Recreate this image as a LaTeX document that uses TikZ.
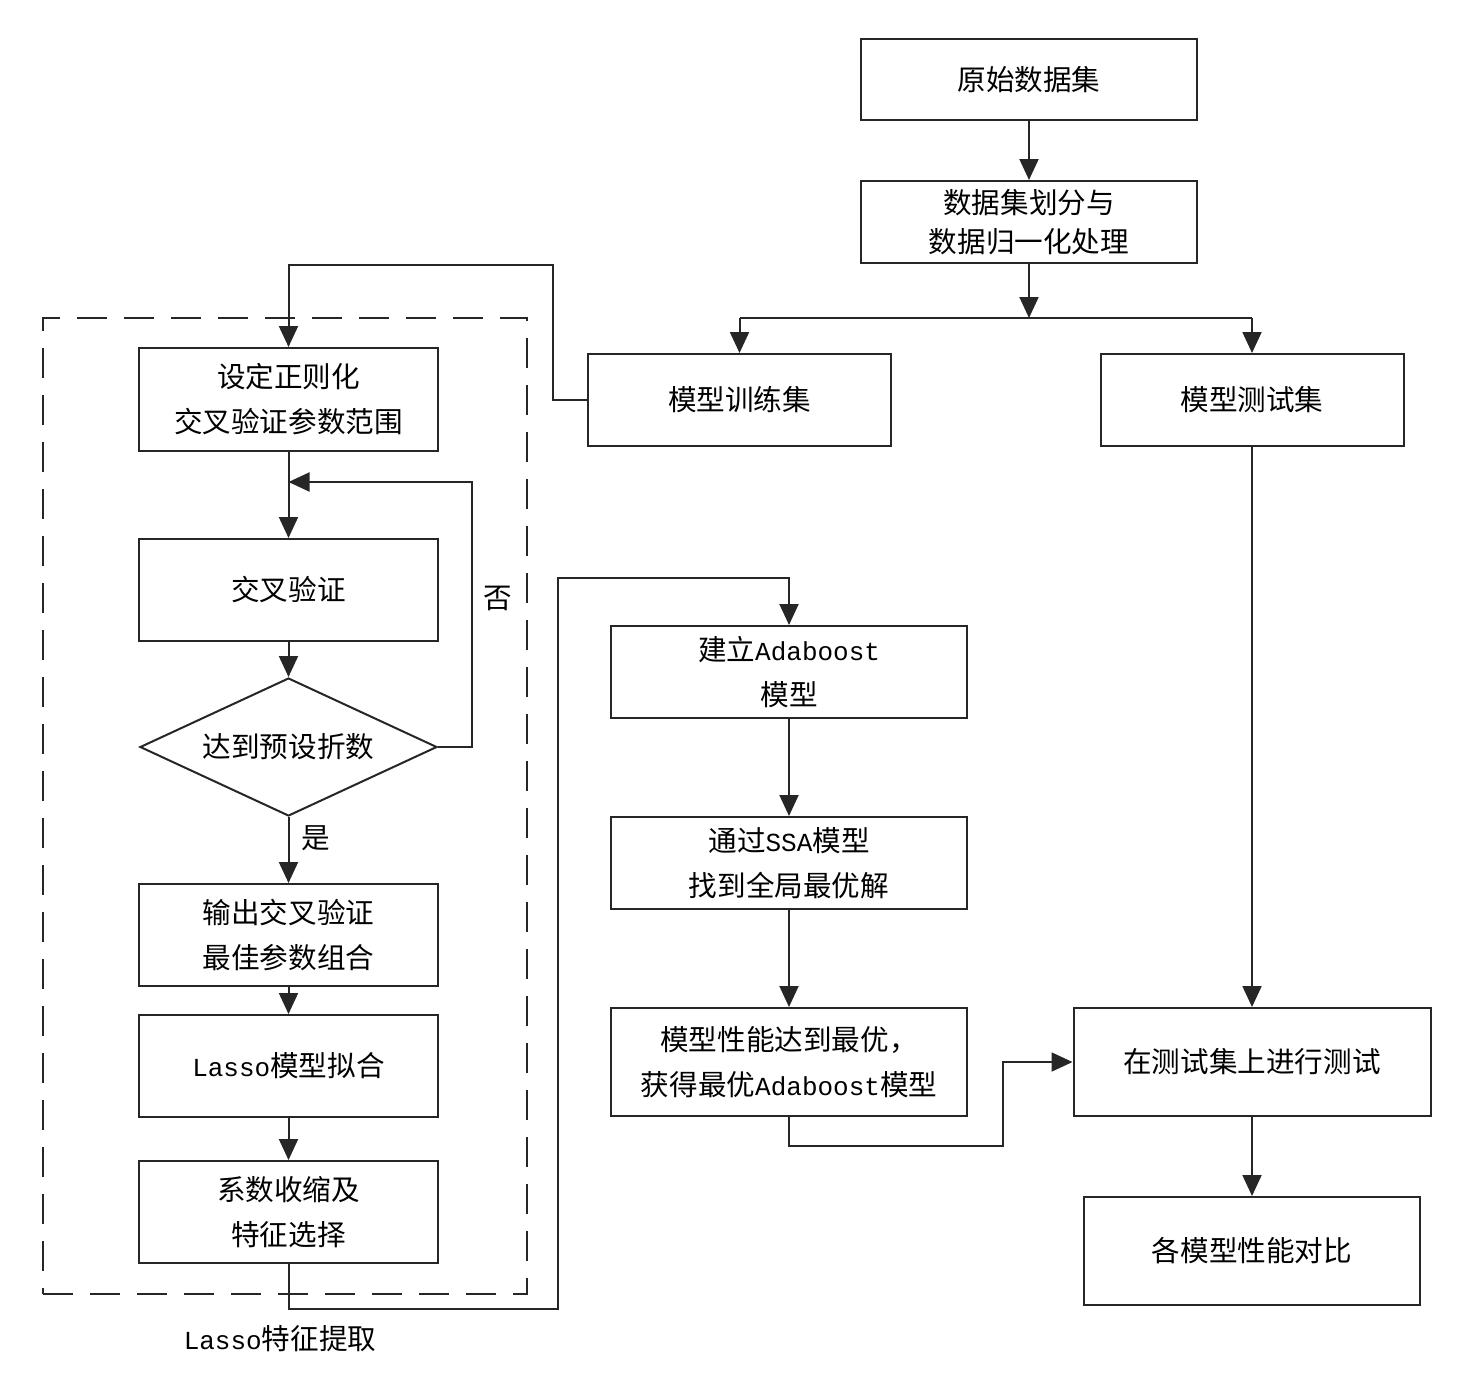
\documentclass[tikz,border=0pt]{standalone}
\usepackage{fontspec}
\setmainfont{Noto Sans CJK SC}
\newfontfamily\latf{Liberation Mono}
\newcommand{\lat}[1]{{\latf\fontsize{13}{22.5}\selectfont #1}}
\usetikzlibrary{arrows.meta,shapes.geometric}
\tikzset{
  box/.style={draw=black!85, line width=1pt, rectangle, align=center, inner sep=0pt,
    font=\fontsize{14.3}{22.5}\selectfont},
  arr/.style={draw=black!85, line width=1pt, -{Triangle[width=9.5pt,length=10.5pt]}},
  ln/.style={draw=black!85, line width=1pt},
  lbl/.style={inner sep=0pt, font=\fontsize{14.3}{22.5}\selectfont},
  dbox/.style={draw=black!85, line width=1pt, dash pattern=on 15pt off 8.5pt, rectangle, inner sep=0pt}
}
\begin{document}
\begin{tikzpicture}[x=0.5pt,y=-0.5pt]
\useasboundingbox (0,0) rectangle (1476,1377);
% dashed group
\node[dbox, minimum width=242pt, minimum height=488pt] (grp) at (285,806) {};
% right column
\node[box, minimum width=168pt, minimum height=40.5pt] (A) at (1029,79.5) {原始数据集};
\node[box, minimum width=168pt, minimum height=41pt, font=\fontsize{14.3}{19.5}\selectfont] (B) at (1029,222) {数据集划分与\\数据归一化处理};
\node[box, minimum width=151.5pt, minimum height=46pt] (C) at (739.5,400) {模型训练集};
\node[box, minimum width=151.5pt, minimum height=46pt] (D) at (1252,400) {模型测试集};
% left column
\node[box, minimum width=149.5pt, minimum height=51.5pt] (E) at (288.5,399.5) {设定正则化\\交叉验证参数范围};
\node[box, minimum width=149.5pt, minimum height=51pt] (F) at (288.5,590) {交叉验证};
\node[draw=black!85, line width=1pt, shape=diamond, shape aspect=2.15, inner sep=0pt, minimum width=148.5pt, minimum height=69pt,
      font=\fontsize{14.3}{22.5}\selectfont] (dia) at (288.5,747) {达到预设折数};
\node[box, minimum width=149.5pt, minimum height=51pt] (G) at (288.5,935) {输出交叉验证\\最佳参数组合};
\node[box, minimum width=149.5pt, minimum height=51pt] (H) at (288.5,1066) {\lat{Lasso}模型拟合};
\node[box, minimum width=149.5pt, minimum height=51pt] (I) at (288.5,1212) {系数收缩及\\特征选择};
% middle column
\node[box, minimum width=178pt, minimum height=46pt] (J) at (789,672) {建立\lat{Adaboost}\\模型};
\node[box, minimum width=178pt, minimum height=46pt] (K) at (789,863) {通过\lat{SSA}模型\\找到全局最优解};
\node[box, minimum width=178pt, minimum height=54pt] (L) at (789,1062) {模型性能达到最优，\\获得最优\lat{Adaboost}模型};
\node[box, minimum width=178.5pt, minimum height=54pt] (M) at (1252,1062) {在测试集上进行测试};
\node[box, minimum width=168pt, minimum height=54pt] (N) at (1252,1251) {各模型性能对比};
% labels
\node[lbl] (no) at (498,598) {否};
\node[lbl] (yes) at (316,838) {是};
\node[lbl] (glbl) at (280,1339) {\lat{Lasso}特征提取};
% coordinates
\coordinate (split) at (1029,318);
\coordinate (c1) at (553,265);
\coordinate (lp) at (472,482);
\coordinate (loopin) at (288.5,482);
\coordinate (q1) at (558,1309);
\coordinate (q2) at (558,578);
\coordinate (r1) at (1003,1146);
% connectors
\draw[arr] (A) -- (B);
\draw[arr] (B) -- (split);
\draw[ln] (C.north |- split) -- (D.north |- split);
\draw[arr] (C.north |- split) -- (C.north);
\draw[arr] (D.north |- split) -- (D.north);
\draw[arr] (C.west) -| (c1) -| (E.north);
\draw[arr] (E) -- (F);
\draw[arr] (dia.east) -| (lp) -- (loopin);
\draw[arr] (F) -- (dia);
\draw[arr] (dia) -- (G);
\draw[arr] (G) -- (H);
\draw[arr] (H) -- (I);
\draw[arr] (I.south) |- (q1) -- (q2) -| (J.north);
\draw[arr] (J) -- (K);
\draw[arr] (K) -- (L);
\draw[arr] (L.south) |- (r1) |- (M.west);
\draw[arr] (D) -- (M);
\draw[arr] (M) -- (N);
\end{tikzpicture}
\end{document}
